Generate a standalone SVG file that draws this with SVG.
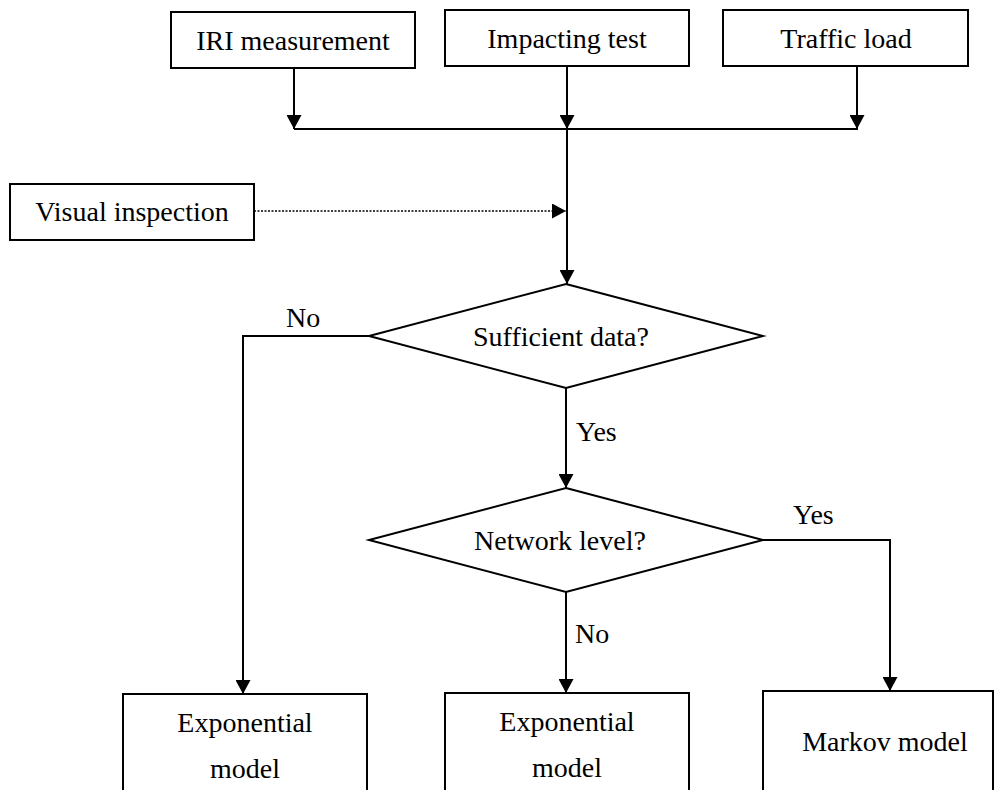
<svg xmlns="http://www.w3.org/2000/svg" width="995" height="790" viewBox="0 0 995 790">
<style>
.box{fill:#fff;stroke:#000;stroke-width:2}
.t{font-family:"Liberation Serif","Times New Roman",serif;font-size:28px;fill:#000}
.c{text-anchor:middle}
.ln{fill:none;stroke:#000;stroke-width:2}
.dot{fill:none;stroke:#000;stroke-width:1.5;stroke-dasharray:2 1.5}
</style>
<defs>
<marker id="ah" markerUnits="userSpaceOnUse" markerWidth="14" markerHeight="15" refX="14" refY="7.5" orient="auto">
<path d="M0,0 L14,7.5 L0,15 z" fill="#000"/>
</marker>
</defs>
<rect width="995" height="790" fill="#fff"/>
<g id="connectors">
<path class="ln" d="M294,68 V129" marker-end="url(#ah)"/>
<path class="ln" d="M567,66 V129" marker-end="url(#ah)"/>
<path class="ln" d="M857,66 V129" marker-end="url(#ah)"/>
<path class="ln" d="M294,129 H858"/>
<path class="ln" d="M567,129 V284" marker-end="url(#ah)"/>
<path class="dot" d="M254,211 H566" marker-end="url(#ah)"/>
<path class="ln" d="M369,336 H243 V694" marker-end="url(#ah)"/>
<path class="ln" d="M566,388 V488" marker-end="url(#ah)"/>
<path class="ln" d="M566,592 V693" marker-end="url(#ah)"/>
<path class="ln" d="M763,540 H890 V691" marker-end="url(#ah)"/>
<text class="t" x="286" y="327">No</text>
<text class="t" x="576" y="441">Yes</text>
<text class="t" x="793" y="524">Yes</text>
<text class="t" x="575" y="643">No</text>
</g>
<g id="iri">
<rect class="box" x="171" y="12" width="244" height="56"/>
<text class="t c" x="293" y="50">IRI measurement</text>
</g>
<g id="impact">
<rect class="box" x="445" y="10" width="244" height="56"/>
<text class="t c" x="567" y="48">Impacting test</text>
</g>
<g id="traffic">
<rect class="box" x="723" y="10" width="245" height="56"/>
<text class="t c" x="846" y="48">Traffic load</text>
</g>
<g id="visual">
<rect class="box" x="10" y="184" width="244" height="56"/>
<text class="t c" x="132" y="221">Visual inspection</text>
</g>
<g id="sufficient">
<polygon class="box" points="566,284 763,336 566,388 369,336"/>
<text class="t c" x="561" y="346">Sufficient data?</text>
</g>
<g id="network">
<polygon class="box" points="566,488 763,540 566,592 369,540"/>
<text class="t c" x="560" y="550">Network level?</text>
</g>
<g id="exp1">
<rect class="box" x="123" y="694" width="244" height="110"/>
<text class="t c" x="245" y="732">Exponential</text>
<text class="t c" x="245" y="778">model</text>
</g>
<g id="exp2">
<rect class="box" x="445" y="693" width="244" height="110"/>
<text class="t c" x="567" y="731">Exponential</text>
<text class="t c" x="567" y="777">model</text>
</g>
<g id="markov">
<rect class="box" x="763" y="691" width="230" height="110"/>
<text class="t c" x="885" y="751">Markov model</text>
</g>
</svg>
